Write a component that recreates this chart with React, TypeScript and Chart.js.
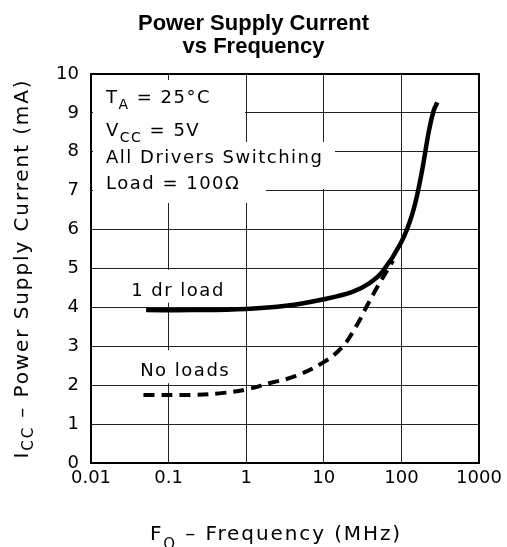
import React, { useEffect, useRef } from 'react';
import { Chart, registerables } from 'chart.js';

Chart.register(...registerables);

// ---- data ----
const freqTicks = [0.01, 0.1, 1, 10, 100, 1000];
const freqTickLabels = ['0.01', '0.1', '1', '10', '100', '1000'];
const currentMin = 0;
const currentMax = 10;

const oneDrLoadFreq = [0.0513, 0.2, 1, 3.25, 10, 23.4, 38.4, 57, 98, 138, 178, 227, 260, 290];
const oneDrLoadCurrent = [3.93, 3.93, 3.96, 4.04, 4.21, 4.4, 4.62, 4.92, 5.65, 6.4, 7.35, 8.55, 9.05, 9.27];

const noLoadFreq = [0.0474, 0.2, 0.45, 1, 1.98, 4.38, 10.1, 17.4, 25.9, 36.5, 49.1, 66, 78];
const noLoadCurrent = [1.75, 1.75, 1.79, 1.89, 2.05, 2.24, 2.6, 2.99, 3.5, 4.06, 4.53, 4.96, 5.2];

const titleLines = ['Power Supply Current', 'vs Frequency'];

type Part = { t: string; sub?: boolean };
const condLines: Part[][] = [
  [{ t: 'T' }, { t: 'A', sub: true }, { t: ' = 25°C' }],
  [{ t: 'V' }, { t: 'CC', sub: true }, { t: ' = 5V' }],
  [{ t: 'All Drivers Switching' }],
  [{ t: 'Load = 100Ω' }],
];
const yTitle: Part[] = [{ t: 'I' }, { t: 'CC', sub: true }, { t: ' – Power Supply Current (mA)' }];
const xTitle: Part[] = [{ t: 'F' }, { t: 'O', sub: true }, { t: ' – Frequency (MHz)' }];
const oneDrLabel = '1 dr load';
const noLoadLabel = 'No loads';

const MAIN_FONT = '18px "DejaVu Sans"';
const SUB_FONT = '14px "DejaVu Sans"';
const AXIS_FONT = '20px "DejaVu Sans"';
const AXIS_SUB_FONT = '15px "DejaVu Sans"';

function drawRich(
  ctx: CanvasRenderingContext2D,
  parts: Part[],
  x: number,
  y: number,
  subDy: number,
  spacing: number,
  align: 'left' | 'center',
  mainFont = MAIN_FONT,
  subFont = SUB_FONT
) {
  ctx.letterSpacing = spacing + 'px';
  const widths = parts.map((p) => {
    ctx.font = p.sub ? subFont : mainFont;
    return ctx.measureText(p.t).width;
  });
  const total = widths.reduce((a, b) => a + b, 0);
  let cx = align === 'center' ? x - total / 2 : x;
  const start = cx;
  parts.forEach((p, i) => {
    ctx.font = p.sub ? subFont : mainFont;
    ctx.fillText(p.t, cx, y + (p.sub ? subDy : 0));
    cx += widths[i];
  });
  ctx.letterSpacing = '0px';
  return { left: start, right: cx };
}

const decorPlugin = {
  id: 'decor',
  beforeDatasetsDraw(chart: any) {
    const ctx: CanvasRenderingContext2D = chart.ctx;
    const { left, top, right, bottom } = chart.chartArea;
    const xs = chart.scales.x;
    const ys = chart.scales.y;
    ctx.save();
    // white masks behind condition text
    ctx.fillStyle = '#fff';
    const masks = [
      [left + 2, top + 6, 152, 62],
      [left + 2, top + 68, 242, 47],
      [left + 2, top + 96, 173, 33],
    ];
    masks.forEach(([mx, my, mw, mh]) => ctx.fillRect(mx, my, mw, mh));

    ctx.fillStyle = '#000';
    ctx.textBaseline = 'alphabetic';
    ctx.textAlign = 'left';
    const baselines = [29, 62, 89, 115];
    condLines.forEach((ln, i) => drawRich(ctx, ln, left + 15, top + baselines[i], 6, 1.5, 'left'));

    // curve labels with white background
    const lbls: [string, number, number][] = [
      [oneDrLabel, xs.getPixelForValue(0.0329), ys.getPixelForValue(4.3)],
      [noLoadLabel, xs.getPixelForValue(0.043), ys.getPixelForValue(2.23)],
    ];
    lbls.forEach(([t, lx, ly]) => {
      ctx.font = MAIN_FONT;
      ctx.letterSpacing = '1.5px';
      const w = ctx.measureText(t).width;
      ctx.fillStyle = '#fff';
      ctx.fillRect(lx - 4, ly - 26, w + 8, 33);
      ctx.fillStyle = '#000';
      ctx.fillText(t, lx, ly);
      ctx.letterSpacing = '0px';
    });

    // frame
    ctx.strokeStyle = '#000';
    ctx.lineWidth = 2;
    ctx.strokeRect(left, top, right - left, bottom - top);
    ctx.restore();
  },
  afterDraw(chart: any) {
    const ctx: CanvasRenderingContext2D = chart.ctx;
    const { left, top, right, bottom } = chart.chartArea;
    ctx.save();
    ctx.fillStyle = '#000';
    ctx.textAlign = 'center';
    ctx.textBaseline = 'alphabetic';
    ctx.font = 'bold 22px "Liberation Sans"';
    ctx.fillText(titleLines[0], chart.width / 2, 30);
    ctx.fillText(titleLines[1], chart.width / 2, 53);

    ctx.textAlign = 'left';
    // x title
    drawRich(ctx, xTitle, (left + right) / 2 - 9, bottom + 77, 9, 1.9, 'center', AXIS_FONT, AXIS_SUB_FONT);
    // y title
    ctx.save();
    ctx.translate(28, (top + bottom) / 2);
    ctx.rotate(-Math.PI / 2);
    drawRich(ctx, yTitle, 0, 0, 5, 1.9, 'center', AXIS_FONT, AXIS_SUB_FONT);
    ctx.restore();
    ctx.restore();
  },
};

export default function App() {
  const ref = useRef<HTMLCanvasElement>(null);
  useEffect(() => {
    document.body.style.margin = '0';
    const canvas = ref.current!;
    const chart = new Chart(canvas, {
      type: 'line',
      data: {
        datasets: [
          {
            label: oneDrLabel,
            data: oneDrLoadFreq.map((f, i) => ({ x: f, y: oneDrLoadCurrent[i] })),
            borderColor: '#000',
            borderWidth: 4.5,
            pointRadius: 0,
            tension: 0.4,
            fill: false,
          },
          {
            label: noLoadLabel,
            data: noLoadFreq.map((f, i) => ({ x: f, y: noLoadCurrent[i] })),
            borderColor: '#000',
            borderWidth: 4,
            borderDash: [11, 7],
            pointRadius: 0,
            tension: 0.4,
            fill: false,
          },
        ],
      },
      options: {
        responsive: false,
        animation: false,
        devicePixelRatio: 1,
        layout: { padding: { top: 74, left: 36, right: 28, bottom: 0 } },
        plugins: { legend: { display: false }, tooltip: { enabled: false }, title: { display: false } },
        scales: {
          x: {
            type: 'logarithmic',
            min: freqTicks[0],
            max: freqTicks[freqTicks.length - 1],
            afterBuildTicks: (s: any) => {
              s.ticks = freqTicks.map((v) => ({ value: v }));
            },
            afterFit: (s: any) => {
              s.height = 84;
            },
            grid: { color: '#222', lineWidth: 1, drawTicks: false },
            border: { display: false },
            ticks: {
              autoSkip: false,
              maxRotation: 0,
              padding: 5,
              color: '#000',
              font: { family: 'DejaVu Sans', size: 18 },
              callback: (_v: any, i: number) => freqTickLabels[i],
            },
          },
          y: {
            type: 'linear',
            min: currentMin,
            max: currentMax,
            afterFit: (s: any) => {
              s.width = 55;
            },
            grid: { color: '#222', lineWidth: 1, drawTicks: false },
            border: { display: false },
            ticks: {
              stepSize: 1,
              padding: 12,
              color: '#000',
              font: { family: 'DejaVu Sans', size: 18 },
            },
          },
        },
      },
      plugins: [decorPlugin],
    } as any);
    return () => chart.destroy();
  }, []);
  return (
    <div style={{ width: 507, height: 547 }}>
      <canvas ref={ref} width={507} height={547} style={{ display: 'block' }} />
    </div>
  );
}
